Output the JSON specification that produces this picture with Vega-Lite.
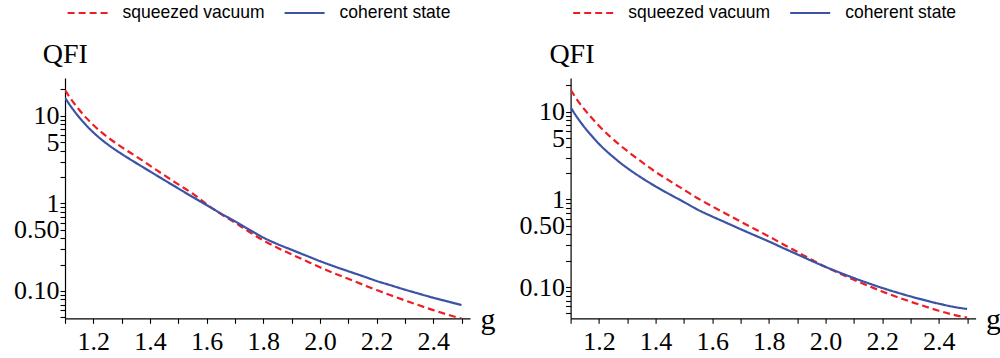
{
  "$schema": "https://vega.github.io/schema/vega-lite/v6.json",
  "background": "white",
  "padding": {"left": 13, "top": 4, "right": 0, "bottom": 4},
  "bounds": "flush",
  "spacing": 100.6,
  "datasets": {
    "left": [
      {"g": 1.100, "state": "squeezed vacuum", "QFI": 19.63},
      {"g": 1.125, "state": "squeezed vacuum", "QFI": 14.93},
      {"g": 1.150, "state": "squeezed vacuum", "QFI": 11.72},
      {"g": 1.175, "state": "squeezed vacuum", "QFI": 9.462},
      {"g": 1.200, "state": "squeezed vacuum", "QFI": 7.834},
      {"g": 1.225, "state": "squeezed vacuum", "QFI": 6.637},
      {"g": 1.250, "state": "squeezed vacuum", "QFI": 5.715},
      {"g": 1.275, "state": "squeezed vacuum", "QFI": 4.984},
      {"g": 1.30, "state": "squeezed vacuum", "QFI": 4.385},
      {"g": 1.35, "state": "squeezed vacuum", "QFI": 3.451},
      {"g": 1.40, "state": "squeezed vacuum", "QFI": 2.698},
      {"g": 1.45, "state": "squeezed vacuum", "QFI": 2.099},
      {"g": 1.50, "state": "squeezed vacuum", "QFI": 1.648},
      {"g": 1.55, "state": "squeezed vacuum", "QFI": 1.297},
      {"g": 1.60, "state": "squeezed vacuum", "QFI": 0.977},
      {"g": 1.65, "state": "squeezed vacuum", "QFI": 0.759},
      {"g": 1.70, "state": "squeezed vacuum", "QFI": 0.603},
      {"g": 1.75, "state": "squeezed vacuum", "QFI": 0.474},
      {"g": 1.80, "state": "squeezed vacuum", "QFI": 0.378},
      {"g": 1.85, "state": "squeezed vacuum", "QFI": 0.311},
      {"g": 1.90, "state": "squeezed vacuum", "QFI": 0.262},
      {"g": 1.95, "state": "squeezed vacuum", "QFI": 0.221},
      {"g": 2.00, "state": "squeezed vacuum", "QFI": 0.1866},
      {"g": 2.05, "state": "squeezed vacuum", "QFI": 0.1592},
      {"g": 2.10, "state": "squeezed vacuum", "QFI": 0.1374},
      {"g": 2.15, "state": "squeezed vacuum", "QFI": 0.1186},
      {"g": 2.20, "state": "squeezed vacuum", "QFI": 0.1023},
      {"g": 2.25, "state": "squeezed vacuum", "QFI": 0.0893},
      {"g": 2.30, "state": "squeezed vacuum", "QFI": 0.0780},
      {"g": 2.35, "state": "squeezed vacuum", "QFI": 0.0685},
      {"g": 2.40, "state": "squeezed vacuum", "QFI": 0.0604},
      {"g": 2.45, "state": "squeezed vacuum", "QFI": 0.0537},
      {"g": 2.50, "state": "squeezed vacuum", "QFI": 0.0484},
      {"g": 1.100, "state": "coherent state", "QFI": 16.03},
      {"g": 1.125, "state": "coherent state", "QFI": 12.22},
      {"g": 1.150, "state": "coherent state", "QFI": 9.616},
      {"g": 1.175, "state": "coherent state", "QFI": 7.780},
      {"g": 1.200, "state": "coherent state", "QFI": 6.457},
      {"g": 1.225, "state": "coherent state", "QFI": 5.483},
      {"g": 1.250, "state": "coherent state", "QFI": 4.732},
      {"g": 1.275, "state": "coherent state", "QFI": 4.145},
      {"g": 1.30, "state": "coherent state", "QFI": 3.664},
      {"g": 1.35, "state": "coherent state", "QFI": 2.904},
      {"g": 1.40, "state": "coherent state", "QFI": 2.317},
      {"g": 1.45, "state": "coherent state", "QFI": 1.849},
      {"g": 1.50, "state": "coherent state", "QFI": 1.479},
      {"g": 1.55, "state": "coherent state", "QFI": 1.186},
      {"g": 1.60, "state": "coherent state", "QFI": 0.955},
      {"g": 1.65, "state": "coherent state", "QFI": 0.767},
      {"g": 1.70, "state": "coherent state", "QFI": 0.624},
      {"g": 1.75, "state": "coherent state", "QFI": 0.501},
      {"g": 1.80, "state": "coherent state", "QFI": 0.407},
      {"g": 1.85, "state": "coherent state", "QFI": 0.343},
      {"g": 1.90, "state": "coherent state", "QFI": 0.295},
      {"g": 1.95, "state": "coherent state", "QFI": 0.254},
      {"g": 2.00, "state": "coherent state", "QFI": 0.219},
      {"g": 2.05, "state": "coherent state", "QFI": 0.191},
      {"g": 2.10, "state": "coherent state", "QFI": 0.168},
      {"g": 2.15, "state": "coherent state", "QFI": 0.148},
      {"g": 2.20, "state": "coherent state", "QFI": 0.130},
      {"g": 2.25, "state": "coherent state", "QFI": 0.116},
      {"g": 2.30, "state": "coherent state", "QFI": 0.1035},
      {"g": 2.35, "state": "coherent state", "QFI": 0.0929},
      {"g": 2.40, "state": "coherent state", "QFI": 0.0836},
      {"g": 2.45, "state": "coherent state", "QFI": 0.0759},
      {"g": 2.50, "state": "coherent state", "QFI": 0.0690}
    ],
    "right": [
      {"g": 1.100, "state": "squeezed vacuum", "QFI": 17.78},
      {"g": 1.125, "state": "squeezed vacuum", "QFI": 13.40},
      {"g": 1.150, "state": "squeezed vacuum", "QFI": 10.50},
      {"g": 1.175, "state": "squeezed vacuum", "QFI": 8.453},
      {"g": 1.200, "state": "squeezed vacuum", "QFI": 6.918},
      {"g": 1.225, "state": "squeezed vacuum", "QFI": 5.741},
      {"g": 1.250, "state": "squeezed vacuum", "QFI": 4.853},
      {"g": 1.275, "state": "squeezed vacuum", "QFI": 4.130},
      {"g": 1.30, "state": "squeezed vacuum", "QFI": 3.565},
      {"g": 1.35, "state": "squeezed vacuum", "QFI": 2.685},
      {"g": 1.40, "state": "squeezed vacuum", "QFI": 2.056},
      {"g": 1.45, "state": "squeezed vacuum", "QFI": 1.622},
      {"g": 1.50, "state": "squeezed vacuum", "QFI": 1.288},
      {"g": 1.55, "state": "squeezed vacuum", "QFI": 1.023},
      {"g": 1.60, "state": "squeezed vacuum", "QFI": 0.832},
      {"g": 1.65, "state": "squeezed vacuum", "QFI": 0.681},
      {"g": 1.70, "state": "squeezed vacuum", "QFI": 0.558},
      {"g": 1.75, "state": "squeezed vacuum", "QFI": 0.459},
      {"g": 1.80, "state": "squeezed vacuum", "QFI": 0.378},
      {"g": 1.85, "state": "squeezed vacuum", "QFI": 0.308},
      {"g": 1.90, "state": "squeezed vacuum", "QFI": 0.252},
      {"g": 1.95, "state": "squeezed vacuum", "QFI": 0.206},
      {"g": 2.00, "state": "squeezed vacuum", "QFI": 0.1698},
      {"g": 2.05, "state": "squeezed vacuum", "QFI": 0.1429},
      {"g": 2.10, "state": "squeezed vacuum", "QFI": 0.1211},
      {"g": 2.15, "state": "squeezed vacuum", "QFI": 0.1035},
      {"g": 2.20, "state": "squeezed vacuum", "QFI": 0.0891},
      {"g": 2.25, "state": "squeezed vacuum", "QFI": 0.0776},
      {"g": 2.30, "state": "squeezed vacuum", "QFI": 0.0681},
      {"g": 2.35, "state": "squeezed vacuum", "QFI": 0.0603},
      {"g": 2.40, "state": "squeezed vacuum", "QFI": 0.0537},
      {"g": 2.45, "state": "squeezed vacuum", "QFI": 0.0484},
      {"g": 2.50, "state": "squeezed vacuum", "QFI": 0.0447},
      {"g": 1.100, "state": "coherent state", "QFI": 11.19},
      {"g": 1.125, "state": "coherent state", "QFI": 8.433},
      {"g": 1.150, "state": "coherent state", "QFI": 6.577},
      {"g": 1.175, "state": "coherent state", "QFI": 5.272},
      {"g": 1.200, "state": "coherent state", "QFI": 4.295},
      {"g": 1.225, "state": "coherent state", "QFI": 3.589},
      {"g": 1.250, "state": "coherent state", "QFI": 3.055},
      {"g": 1.275, "state": "coherent state", "QFI": 2.618},
      {"g": 1.30, "state": "coherent state", "QFI": 2.275},
      {"g": 1.35, "state": "coherent state", "QFI": 1.766},
      {"g": 1.40, "state": "coherent state", "QFI": 1.406},
      {"g": 1.45, "state": "coherent state", "QFI": 1.140},
      {"g": 1.50, "state": "coherent state", "QFI": 0.933},
      {"g": 1.55, "state": "coherent state", "QFI": 0.759},
      {"g": 1.60, "state": "coherent state", "QFI": 0.637},
      {"g": 1.65, "state": "coherent state", "QFI": 0.540},
      {"g": 1.70, "state": "coherent state", "QFI": 0.457},
      {"g": 1.75, "state": "coherent state", "QFI": 0.389},
      {"g": 1.80, "state": "coherent state", "QFI": 0.331},
      {"g": 1.85, "state": "coherent state", "QFI": 0.279},
      {"g": 1.90, "state": "coherent state", "QFI": 0.236},
      {"g": 1.95, "state": "coherent state", "QFI": 0.1995},
      {"g": 2.00, "state": "coherent state", "QFI": 0.1698},
      {"g": 2.05, "state": "coherent state", "QFI": 0.1462},
      {"g": 2.10, "state": "coherent state", "QFI": 0.1268},
      {"g": 2.15, "state": "coherent state", "QFI": 0.1109},
      {"g": 2.20, "state": "coherent state", "QFI": 0.0977},
      {"g": 2.25, "state": "coherent state", "QFI": 0.0871},
      {"g": 2.30, "state": "coherent state", "QFI": 0.0782},
      {"g": 2.35, "state": "coherent state", "QFI": 0.0708},
      {"g": 2.40, "state": "coherent state", "QFI": 0.0646},
      {"g": 2.45, "state": "coherent state", "QFI": 0.0596},
      {"g": 2.50, "state": "coherent state", "QFI": 0.0562}
    ]
  },
  "config": {
    "view": {"stroke": null},
    "axis": {
      "domainColor": "black",
      "domainWidth": 1.2,
      "tickColor": "black",
      "tickWidth": 1.1,
      "tickSize": 5,
      "grid": false,
      "labelFont": "Liberation Serif",
      "labelFontSize": 26,
      "labelColor": "black",
      "labelOverlap": false,
      "labelFlush": false,
      "labelBound": false,
      "titleFont": "Liberation Serif",
      "titleFontWeight": "normal",
      "titleColor": "black"
    },
    "axisX": {
      "values": [1.15,1.2,1.25,1.3,1.35,1.4,1.45,1.5,1.55,1.6,1.65,1.7,1.75,1.8,1.85,1.9,1.95,2.0,2.05,2.1,2.15,2.2,2.25,2.3,2.35,2.4,2.45,2.5],
      "labelExpr": "abs(datum.value*5 - round(datum.value*5)) < 0.001 ? format(datum.value, '.1f') : ''",
      "labelPadding": 5
    },
    "axisY": {
      "values": [0.05,0.06,0.07,0.08,0.09,0.1,0.2,0.3,0.4,0.5,0.6,0.7,0.8,0.9,1,2,3,4,5,6,7,8,9,10,20],
      "labelExpr": "datum.value == 10 ? '10' : datum.value == 5 ? '5' : datum.value == 1 ? '1' : datum.value == 0.5 ? '0.50' : datum.value == 0.1 ? '0.10' : ''",
      "labelPadding": 1
    },
    "legend": {
      "orient": "none",
      "legendX": 1.6,
      "legendY": -74,
      "direction": "horizontal",
      "symbolType": "stroke",
      "symbolSize": 1600,
      "symbolStrokeWidth": 2,
      "clipHeight": 18,
      "labelFont": "Liberation Sans",
      "labelFontSize": 17.5,
      "labelColor": "black",
      "labelOffset": 14,
      "columnPadding": 18,
      "padding": 0
    }
  },
  "resolve": {
    "scale": {"color": "independent", "strokeDash": "independent", "x": "independent", "y": "independent"},
    "legend": {"color": "independent", "strokeDash": "independent"}
  },
  "hconcat": [
    {
      "width": 405,
      "height": 240.3,
      "data": {"name": "left"},
      "mark": {"type": "line", "interpolate": "monotone", "strokeWidth": 2.2, "clip": true},
      "encoding": {
        "x": {
          "field": "g", "type": "quantitative",
          "scale": {"domain": [1.1, 2.53], "nice": false, "zero": false},
          "axis": {
            "title": "g",
            "titleFontSize": 30,
            "titleAngle": 0,
            "titleAlign": "left",
            "titleBaseline": "alphabetic",
            "titleX": 415,
            "titleY": 10,
            "encode": {"ticks": {"update": {"y2": {"signal": "abs(datum.value*5 - round(datum.value*5)) < 0.001 ? -5 : -3"}}}}
          }
        },
        "y": {
          "field": "QFI", "type": "quantitative",
          "scale": {"type": "log", "domain": [0.0487, 27], "nice": false, "zero": false},
          "axis": {
            "title": "QFI",
            "titleFontSize": 28,
            "titleAngle": 0,
            "titleAlign": "left",
            "titleBaseline": "alphabetic",
            "titleX": -22.7,
            "titleY": -15,
            "encode": {"ticks": {"update": {"x2": {"signal": "indexof([0.1, 0.5, 1, 5, 10], datum.value) >= 0 ? 5 : 3"}}}}
          }
        },
        "color": {
          "field": "state", "type": "nominal",
          "scale": {"domain": ["squeezed vacuum", "coherent state"], "range": ["#ee1d24", "#3a53a4"]},
          "legend": {"title": null}
        },
        "strokeDash": {
          "field": "state", "type": "nominal",
          "scale": {"domain": ["squeezed vacuum", "coherent state"], "range": [[7, 4], [1, 0]]},
          "legend": {"title": null}
        }
      }
    },
    {
      "width": 405,
      "height": 240.3,
      "data": {"name": "right"},
      "mark": {"type": "line", "interpolate": "monotone", "strokeWidth": 2.2, "clip": true},
      "encoding": {
        "x": {
          "field": "g", "type": "quantitative",
          "scale": {"domain": [1.1, 2.53], "nice": false, "zero": false},
          "axis": {
            "title": "g",
            "titleFontSize": 30,
            "titleAngle": 0,
            "titleAlign": "left",
            "titleBaseline": "alphabetic",
            "titleX": 415,
            "titleY": 10,
            "encode": {"ticks": {"update": {"y2": {"signal": "abs(datum.value*5 - round(datum.value*5)) < 0.001 ? -5 : -3"}}}}
          }
        },
        "y": {
          "field": "QFI", "type": "quantitative",
          "scale": {"type": "log", "domain": [0.044, 24.2], "nice": false, "zero": false},
          "axis": {
            "title": "QFI",
            "titleFontSize": 28,
            "titleAngle": 0,
            "titleAlign": "left",
            "titleBaseline": "alphabetic",
            "titleX": -21.7,
            "titleY": -15,
            "encode": {"ticks": {"update": {"x2": {"signal": "indexof([0.1, 0.5, 1, 5, 10], datum.value) >= 0 ? 5 : 3"}}}}
          }
        },
        "color": {
          "field": "state", "type": "nominal",
          "scale": {"domain": ["squeezed vacuum", "coherent state"], "range": ["#ee1d24", "#3a53a4"]},
          "legend": {"title": null}
        },
        "strokeDash": {
          "field": "state", "type": "nominal",
          "scale": {"domain": ["squeezed vacuum", "coherent state"], "range": [[7, 4], [1, 0]]},
          "legend": {"title": null}
        }
      }
    }
  ]
}
